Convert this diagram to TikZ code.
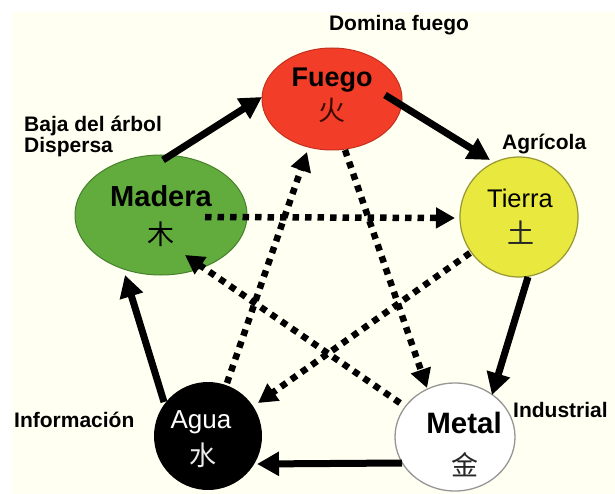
\documentclass[tikz,border=0pt]{standalone}
\usepackage{fontspec}
\setmainfont{Liberation Sans}
\newfontfamily\cjk{Noto Sans CJK SC}
\usetikzlibrary{shapes.geometric,arrows.meta,calc}
\definecolor{bgcream}{RGB}{255,255,242}
\definecolor{fuegofill}{RGB}{242,62,40}
\definecolor{fuegoline}{RGB}{196,48,32}
\definecolor{maderafill}{RGB}{98,172,62}
\definecolor{maderaline}{RGB}{70,128,45}
\definecolor{tierrafill}{RGB}{232,232,62}
\definecolor{tierraline}{RGB}{150,150,50}
\definecolor{metalline}{RGB}{150,150,150}
\definecolor{fuegochar}{RGB}{60,10,0}
\begin{document}
\begin{tikzpicture}[x=1pt,y=-1pt,
  elem/.style={ellipse, inner sep=0pt},
  lbl/.style={font=\fontsize{21}{21}\selectfont\bfseries, inner sep=0pt, anchor=base west},
  bigtxt/.style={inner sep=0pt, anchor=base},
  hanzi/.style={inner sep=0pt, anchor=center, font=\fontsize{27}{27}\selectfont\cjk},
  solidarrow/.style={line width=7pt, -{Triangle[length=22pt,width=23pt]}},
  dotarrow/.style={line width=6.5pt, dash pattern=on 6.5pt off 6pt, -{Triangle[length=19pt,width=20pt]}}]
\useasboundingbox (0,0) rectangle (615,494);
\fill[bgcream] (12,12) rectangle (615,494);
% elements
\node[elem, fill=fuegofill, draw=fuegoline, line width=1pt, minimum width=140pt, minimum height=102pt] (fuego) at (332,99) {};
\node[elem, fill=maderafill, draw=maderaline, line width=1pt, minimum width=172pt, minimum height=120pt] (madera) at (161,215) {};
\node[elem, fill=tierrafill, draw=tierraline, line width=1.2pt, minimum width=118pt, minimum height=120pt] (tierra) at (519,217) {};
\node[elem, fill=black, minimum width=108pt, minimum height=108pt] (agua) at (208,436) {};
\node[elem, fill=white, draw=metalline, line width=1.3pt, minimum width=120pt, minimum height=108pt] (metal) at (455,437) {};
% generating cycle (solid)
\draw[solidarrow] ($(madera.center)+(2,-55)$) -- ($(fuego.center)+(-70,-2)$);
\draw[solidarrow] ($(fuego.center)+(53,-4)$) -- ($(tierra.center)+(-29,-57)$);
\draw[solidarrow] ($(tierra.center)+(9,60)$) -- ($(metal.center)+(37,-42)$);
\draw[solidarrow] ($(metal.center)+(-53,26)$) -- ($(agua.center)+(49,28)$);
\draw[solidarrow] ($(agua.center)+(-44,-34)$) -- ($(madera.center)+(-36,60)$);
% controlling cycle (dotted)
\draw[dotarrow] ($(madera.center)+(44,2)$) -- ($(tierra.center)+(-64,1)$);
\draw[dotarrow] ($(fuego.center)+(13,51)$) -- ($(metal.center)+(-28,-49)$);
\draw[dotarrow] ($(tierra.center)+(-49,36)$) -- ($(agua.center)+(50,-33)$);
\draw[dotarrow] ($(metal.center)+(-55,-34)$) -- ($(madera.center)+(24,40)$);
\draw[dotarrow] ($(agua.center)+(19,-53)$) -- ($(fuego.center)+(-25,53)$);
% texts in elements
\node[bigtxt, font=\fontsize{27}{27}\selectfont\bfseries] (fuegoT) at (332,87) {Fuego};
\node[hanzi, text=fuegochar] (fuegoC) at (332,110) {火};
\node[bigtxt, font=\fontsize{29}{29}\selectfont\bfseries] (maderaT) at (161,207) {Madera};
\node[hanzi, text=black] (maderaC) at (161,234) {木};
\node[bigtxt, font=\fontsize{25.5}{25.5}\selectfont] (tierraT) at (520,208) {Tierra};
\node[hanzi, text=black!85] (tierraC) at (521,233) {土};
\node[bigtxt, font=\fontsize{26}{26}\selectfont, text=white] (aguaT) at (201,428) {Agua};
\node[hanzi, text=white!92!black] (aguaC) at (203,455) {水};
\node[bigtxt, font=\fontsize{29.5}{29.5}\selectfont\bfseries] (metalT) at (464,433) {Metal};
\node[hanzi, text=black!85] (metalC) at (465,465) {金};
% labels
\node[lbl, anchor=base] (lfuego) at (399,31) {Domina fuego};
\node[lbl] (lmadera1) at (24,132) {Baja del árbol};
\node[lbl] (lmadera2) at (24,153) {Dispersa};
\node[lbl] (ltierra) at (502,150) {Agrícola};
\node[lbl] (lagua) at (14,427) {Información};
\node[lbl] (lmetal) at (513,417) {Industrial};
\end{tikzpicture}
\end{document}
